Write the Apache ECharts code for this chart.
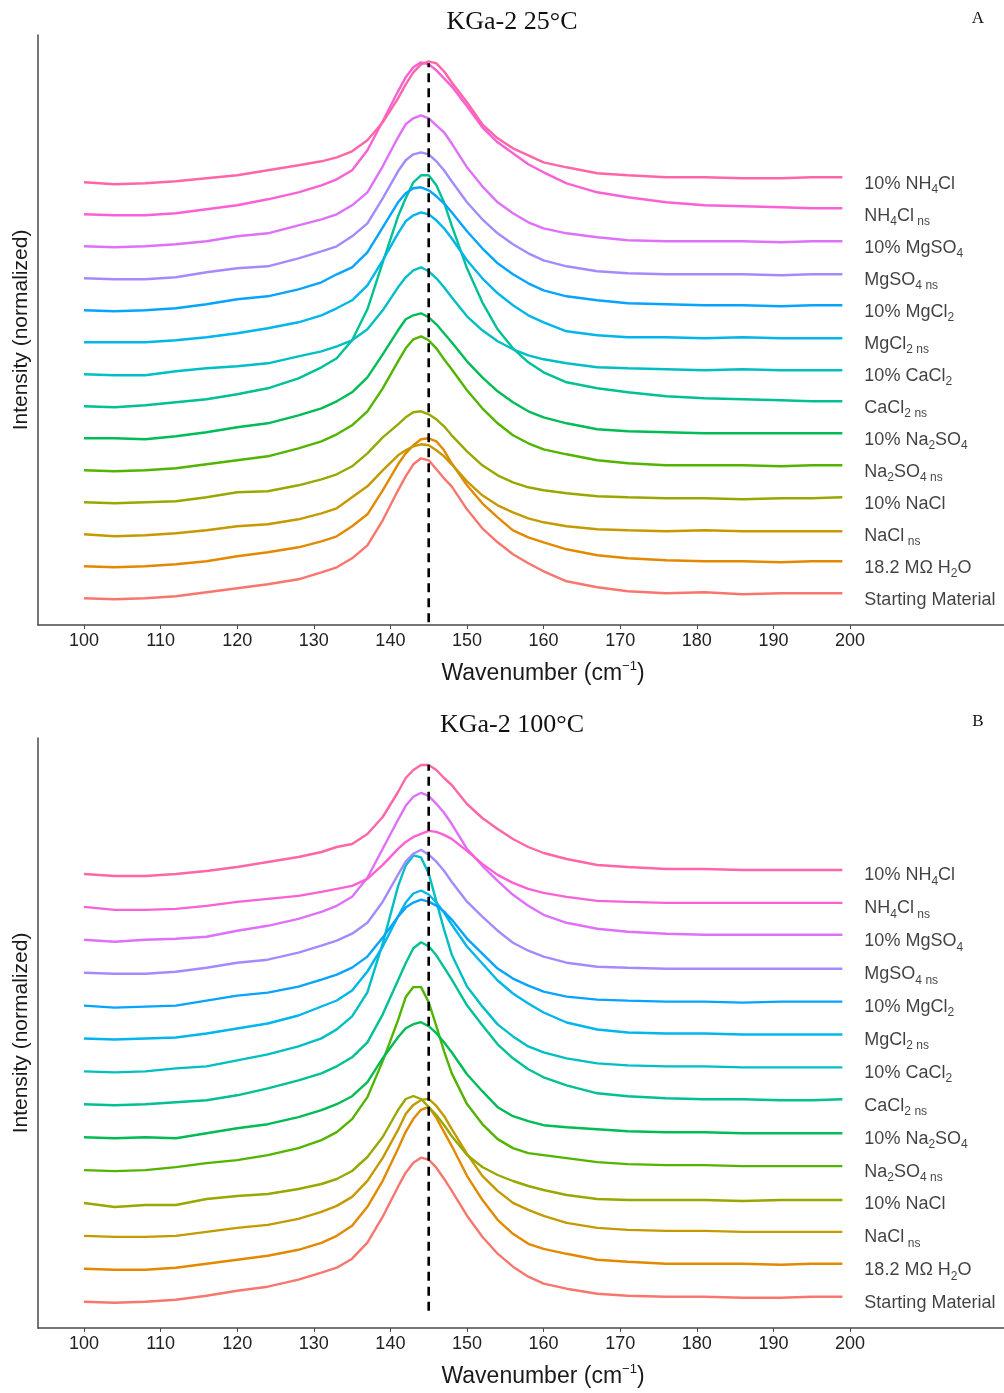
<!DOCTYPE html>
<html>
<head>
<meta charset="utf-8">
<script src="https://cdn.jsdelivr.net/npm/echarts@6/dist/echarts.min.js"></script>
<style>
  html, body { margin: 0; padding: 0; background: #ffffff; }
  #chart { width: 1004px; height: 1393px; }
</style>
</head>
<body>
<div id="chart"></div>
<script>
// Raman shift sampling points (cm-1), shared by every spectrum
const wavenumber = [100,104,108,112,116,120,124,128,131,133,135,137,139,141,142,143,144,145,146,147,148,150,152,154,156,158,160,163,167,171,176,181,186,191,195,199];

// Axis tick labels
const xTicks = [100,110,120,130,140,150,160,170,180,190,200];

// Sample names, bottom trace first ({s|..} = subscript)
const sampleLabels = [
  'Starting Material',
  '18.2 M\u03A9 H{s|2}O',
  'NaCl{s| ns}',
  '10% NaCl',
  'Na{s|2}SO{s|4 ns}',
  '10% Na{s|2}SO{s|4}',
  'CaCl{s|2 ns}',
  '10% CaCl{s|2}',
  'MgCl{s|2 ns}',
  '10% MgCl{s|2}',
  'MgSO{s|4 ns}',
  '10% MgSO{s|4}',
  'NH{s|4}Cl{s| ns}',
  '10% NH{s|4}Cl'
];
const sampleColors = ['#F8766D','#E38900','#C49A00','#99A800','#53B400','#00BC56','#00C094','#00BFC4','#00B6EB','#06A4FF','#A58AFF','#DF70F8','#FB61D7','#FF66A8'];

// KGa-2 25 °C, normalized intensity (a.u.) above each trace's own baseline
const startA     = [0,-1,0,2,6,10,14,19,26,31,40,53,78,108,122,134,140,138,129,120,112,89,70,56,44,35,27,17,11,7,5,6,4,5,5,5];
const waterA     = [0,-1,0,2,5,10,14,19,25,30,40,52,76,102,113,121,127,128,125,116,103,81,63,49,36,29,24,17,11,8,6,5,5,4,5,5];
const naclNsA    = [0,-2,-1,1,4,8,10,15,21,26,37,48,64,79,84,88,90,89,84,78,70,53,39,29,22,16,12,8,5,4,3,4,3,3,3,3];
const nacl10A    = [0,-1,0,1,5,10,11,17,23,28,36,49,65,78,85,90,91,88,83,76,67,51,37,27,20,15,12,9,6,5,4,4,3,4,4,5];
const na2so4NsA  = [0,-1,0,2,6,10,14,22,29,36,45,59,82,109,122,131,134,130,122,111,101,80,62,47,35,27,21,16,10,7,5,5,5,4,5,5];
const na2so410A  = [0,0,-1,2,6,11,15,23,30,37,46,61,84,108,119,123,125,121,114,105,96,77,61,47,36,27,21,15,9,7,6,5,5,5,5,5];
const cacl2NsA   = [0,-1,1,4,7,12,18,28,39,48,66,97,144,190,208,224,231,231,221,204,181,138,104,77,58,44,34,24,18,14,10,8,7,6,5,5];
const cacl210A   = [0,-1,-1,3,6,8,11,18,23,28,34,45,64,87,97,104,107,103,96,87,77,58,44,33,25,19,15,11,7,6,5,4,5,4,4,4];
const mgcl2NsA   = [0,0,0,2,5,9,14,20,27,34,42,57,82,109,121,127,130,128,122,114,104,82,64,49,37,27,20,11,7,5,5,4,5,4,4,4];
const mgcl210A   = [0,-1,0,2,6,11,14,21,28,36,43,58,83,108,117,122,123,120,114,107,98,79,62,47,36,27,20,14,10,7,6,5,5,4,5,5];
const mgso4NsA   = [0,-1,-1,1,6,10,12,20,27,32,42,55,80,107,118,124,126,124,117,108,97,76,59,45,34,25,18,12,7,5,4,4,4,3,4,4];
const mgso410A   = [0,-1,0,2,5,10,13,21,27,32,41,54,80,109,122,128,131,128,121,114,103,79,60,44,33,24,18,13,9,6,5,5,5,4,5,5];
const nh4clNsA   = [0,-1,-1,1,5,9,15,22,29,35,44,64,93,123,137,147,152,150,144,136,128,108,87,72,61,50,42,31,22,17,12,9,8,7,6,6];
const nh4cl10A   = [0,-2,-1,1,4,7,12,17,21,25,31,42,60,84,98,110,118,121,119,111,100,80,58,44,34,27,20,15,9,7,5,5,4,4,5,5];

// KGa-2 100 °C
const startB     = [0,-1,0,2,6,11,15,22,29,34,43,59,85,115,129,139,144,142,134,123,111,86,65,48,35,25,18,13,8,6,5,5,4,4,5,5];
const waterB     = [0,-1,-1,1,5,9,13,19,26,33,43,62,88,120,137,150,159,162,151,137,123,93,69,49,35,25,20,15,9,7,5,5,5,4,5,5];
const naclNsB    = [0,-1,-1,0,4,8,11,17,24,30,39,55,78,106,122,131,136,137,130,120,107,82,60,45,33,26,20,13,8,6,5,5,4,4,4,4];
const nacl10B    = [0,-4,-2,-2,4,7,9,14,19,24,32,46,66,93,104,107,104,96,88,78,67,48,36,28,22,17,13,8,4,3,3,3,2,3,3,3];
const na2so4NsB  = [0,-1,0,3,7,10,15,22,30,38,51,73,109,150,173,183,183,168,144,119,97,66,46,31,22,17,15,12,8,6,5,5,4,4,4,4];
const na2so410B  = [0,-1,0,-1,4,9,13,20,27,33,41,55,79,100,109,113,115,111,104,95,85,63,46,30,21,16,12,10,8,6,5,5,4,4,4,4];
const cacl2NsB   = [0,-1,0,2,4,9,16,24,31,38,47,62,90,124,141,156,162,158,149,137,125,99,79,60,46,35,27,19,11,8,6,5,5,4,4,5];
const cacl210B   = [0,-1,0,3,5,11,17,25,33,42,55,79,128,185,206,216,214,198,170,142,117,85,65,47,35,25,19,13,8,6,5,5,4,4,4,4];
const mgcl2NsB   = [0,-1,0,1,5,10,15,23,32,38,48,67,92,122,136,145,148,144,136,126,114,92,75,58,45,35,26,16,9,6,5,5,4,4,4,4];
const mgcl210B   = [0,-2,-1,0,5,10,13,19,26,31,38,49,68,89,98,103,106,104,100,94,86,67,52,37,27,20,14,9,6,5,4,4,3,4,4,4];
const mgso4NsB   = [0,-1,-1,1,5,10,13,20,27,32,39,50,71,98,111,119,123,118,111,102,91,71,56,42,30,22,16,10,6,5,4,4,4,4,4,4];
const mgso410B   = [0,-2,0,1,3,9,14,21,28,34,43,62,91,120,134,143,147,144,136,127,116,91,74,59,45,34,25,17,11,8,6,5,5,5,5,5];
const nh4clNsB   = [0,-3,-3,-2,1,5,8,11,15,18,21,28,42,58,65,70,73,76,75,72,68,56,43,32,24,18,14,10,6,5,4,4,4,4,4,4];
const nh4cl10B   = [0,-2,-2,0,3,7,12,17,22,27,30,40,57,82,96,104,109,109,104,96,89,70,56,45,35,27,21,15,9,7,5,5,4,4,4,4];

// Reference band position (cm-1) and the extent of its marker in each panel
const bandCenter = 145;
const bandMarkA = [-24, 535];
const bandMarkB = [-9, 537];

const spectraA = [startA, waterA, naclNsA, nacl10A, na2so4NsA, na2so410A, cacl2NsA, cacl210A, mgcl2NsA, mgcl210A, mgso4NsA, mgso410A, nh4clNsA, nh4cl10A];
const spectraB = [startB, waterB, naclNsB, nacl10B, na2so4NsB, na2so410B, cacl2NsB, cacl210B, mgcl2NsB, mgcl210B, mgso4NsB, mgso410B, nh4clNsB, nh4cl10B];

const SANS = '"Liberation Sans", Arial, sans-serif';
const SERIF = '"Liberation Serif", "Times New Roman", serif';

const chart = echarts.init(document.getElementById('chart'), null, { renderer: 'canvas' });

function makeXAxis(gridIndex) {
  return {
    gridIndex, type: 'value', min: 94, max: 220.1,
    axisLine: { show: true, onZero: false, lineStyle: { color: '#4a4a4a', width: 1.5 } },
    axisTick: { show: true, customValues: xTicks, length: 4, lineStyle: { color: '#4a4a4a', width: 1 } },
    axisLabel: { customValues: xTicks, fontSize: 18, color: '#222', fontFamily: SANS, margin: 7 },
    splitLine: { show: false },
    name: 'Wavenumber (cm{sup|\u22121})',
    nameLocation: 'middle', nameGap: 35,
    nameTextStyle: {
      fontSize: 23, color: '#1a1a1a', fontFamily: SANS, padding: [0, 0, 0, 44], lineHeight: 28,
      rich: { sup: { fontSize: 13, fontFamily: SANS, color: '#1a1a1a', verticalAlign: 'top', lineHeight: 14 } }
    }
  };
}

function makeYAxis(gridIndex, min, max) {
  return {
    gridIndex, type: 'value', min, max,
    axisLine: { show: true, onZero: false, lineStyle: { color: '#4a4a4a', width: 1.5 } },
    axisTick: { show: false }, axisLabel: { show: false }, splitLine: { show: false },
    name: 'Intensity (normalized)', nameLocation: 'middle', nameGap: 6, nameRotate: 90,
    nameTextStyle: { fontSize: 21, color: '#1a1a1a', fontFamily: SANS }
  };
}

const series = [];
function addPanel(gridIndex, spectra, step, bandMark) {
  spectra.forEach((vals, i) => {
    series.push({
      type: 'line', xAxisIndex: gridIndex, yAxisIndex: gridIndex,
      data: wavenumber.map((w, k) => [w, vals[k] + i * step]),
      symbol: 'none', smooth: false, silent: true,
      lineStyle: { color: sampleColors[i], width: 2.4 },
      z: 2
    });
  });
  // trace names at the right end of each trace
  series.push({
    type: 'scatter', xAxisIndex: gridIndex, yAxisIndex: gridIndex,
    symbolSize: 0, silent: true, z: 3,
    data: sampleLabels.map((t, i) => ({ value: [199, i * step], label: { formatter: t } })),
    label: {
      show: true, position: 'right', distance: 22, offset: [0, 1.5],
      fontSize: 18, color: '#111', fontFamily: SANS, lineHeight: 24,
      rich: { s: { fontSize: 12, fontFamily: SANS, color: '#111', verticalAlign: 'bottom' } }
    }
  });
  series.push({
    type: 'line', xAxisIndex: gridIndex, yAxisIndex: gridIndex,
    data: [[bandCenter, bandMark[0]], [bandCenter, bandMark[1]]],
    symbol: 'none', silent: true, z: 5,
    lineStyle: { color: '#000', width: 2.6, type: [9, 6] }
  });
}

addPanel(0, spectraA, 32, bandMarkA);
addPanel(1, spectraB, 32.9, bandMarkB);

chart.setOption({
  animation: false,
  backgroundColor: '#ffffff',
  grid: [
    { left: 38, top: 35, width: 966, height: 590 },
    { left: 38, top: 738, width: 966, height: 590 }
  ],
  xAxis: [makeXAxis(0), makeXAxis(1)],
  yAxis: [makeYAxis(0, -26.7, 563.3), makeYAxis(1, -26.3, 563.7)],
  series,
  graphic: [
    { type: 'text', x: 512, y: 22, style: { text: 'KGa-2 25\u00B0C', font: '26px ' + SERIF, fill: '#111', textAlign: 'center', textVerticalAlign: 'middle' } },
    { type: 'text', x: 978, y: 19, style: { text: 'A', font: '17px ' + SERIF, fill: '#111', textAlign: 'center', textVerticalAlign: 'middle' } },
    { type: 'text', x: 512, y: 725, style: { text: 'KGa-2 100\u00B0C', font: '26px ' + SERIF, fill: '#111', textAlign: 'center', textVerticalAlign: 'middle' } },
    { type: 'text', x: 978, y: 722, style: { text: 'B', font: '17px ' + SERIF, fill: '#111', textAlign: 'center', textVerticalAlign: 'middle' } }
  ]
});
</script>
</body>
</html>
